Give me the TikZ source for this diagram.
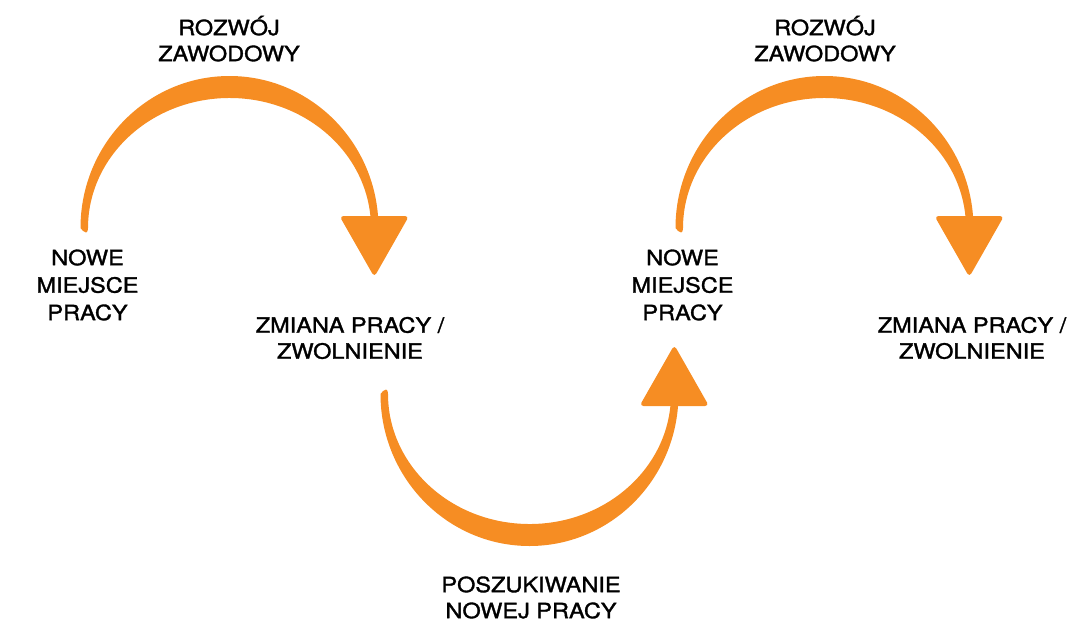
\documentclass[tikz,border=0pt]{standalone}
\usepackage{fontspec}
\setmainfont{TeX Gyre Heros}[FakeStretch=1.12, FakeBold=1.5]
\definecolor{arroworange}{RGB}{246,141,35}
\tikzset{
  lbl/.style={font=\fontsize{15.75}{19.5}\selectfont, align=center, inner sep=0pt, text=black},
  lbltall/.style={lbl, font=\fontsize{15.75}{20.6}\selectfont},
  crescent/.style={fill=arroworange, draw=none},
}
\newcommand\crescentarrow{%
  \fill[crescent] (-149,0) arc[start angle=180, end angle=4.15, x radius=149, y radius=152]
     -- (148.6,5) -- (141,5) -- (141,11)
     arc[start angle=4.85, end angle=180, x radius=141.5, y radius=130]
     .. controls (-141.5,-3) and (-142,-4) .. (-143.5,-4.5)
     .. controls (-145.5,-4.5) and (-147.5,-2) .. (-149,0) -- cycle;
  \fill[crescent, rounded corners=3pt] (110,12) -- (179.5,12) -- (144.8,-49) -- cycle;
}
\begin{document}
\begin{tikzpicture}[x=0.75pt, y=-0.75pt]
\useasboundingbox (0,0) rectangle (1074,621);
% arrows
\coordinate (c1) at (229.5,228);
\coordinate (c2) at (824.5,228);
\coordinate (c3) at (529.5,394);
\begin{scope}[shift={(c1)}, yscale=-1]\crescentarrow\end{scope}
\begin{scope}[shift={(c2)}, yscale=-1]\crescentarrow\end{scope}
\begin{scope}[shift={(c3)}]\crescentarrow\end{scope}
% labels
\node[lbl] (rozwoj1) at (229,38.7) {ROZWÓJ\\ZAWODOWY};
\node[lbl] (rozwoj2) at (825,38.7) {ROZWÓJ\\ZAWODOWY};
\node[lbltall] (nowe1) at (87.5,285) {NOWE\\MIEJSCE\\PRACY};
\node[lbltall] (nowe2) at (682.5,285) {NOWE\\MIEJSCE\\PRACY};
\node[lbl] (zmiana1) at (350,338) {ZMIANA PRACY /\\ZWOLNIENIE};
\node[lbl] (zmiana2) at (972,338) {ZMIANA PRACY /\\ZWOLNIENIE};
\node[lbl] (poszuk) at (531,597.5) {POSZUKIWANIE\\NOWEJ PRACY};
\end{tikzpicture}
\end{document}
